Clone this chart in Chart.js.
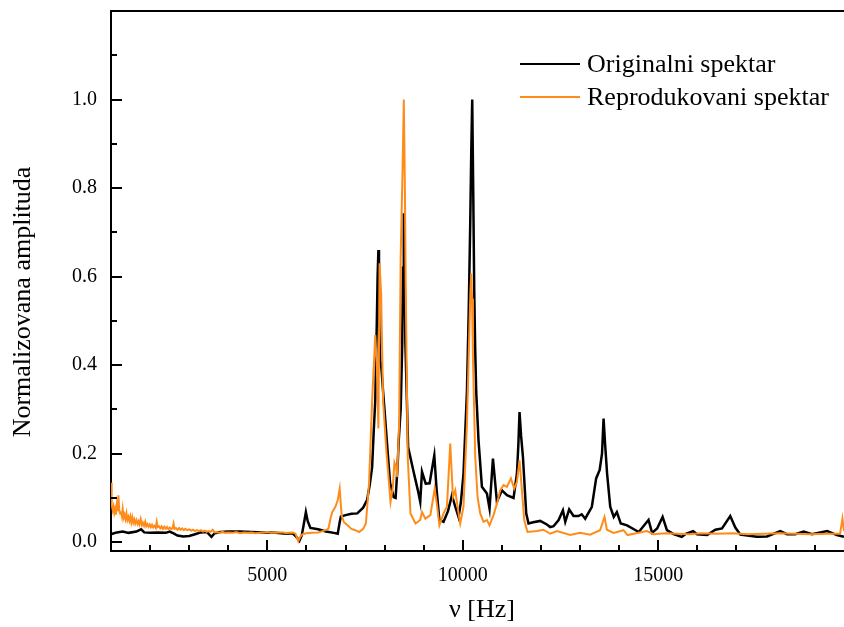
<!DOCTYPE html>
<html>
<head>
<meta charset="utf-8">
<title>Spektar</title>
<script src="https://cdn.jsdelivr.net/npm/chart.js@4.4.0/dist/chart.umd.min.js"></script>
<style>
    html, body { margin: 0; padding: 0; background: #fff; }
    #wrap { width: 844px; height: 627px; position: relative; }
</style>
</head>
<body>
<div id="wrap"><canvas id="spectrum"></canvas></div>
<script>
// Original spectrum (black)
const freqOriginal = [
    1000, 1150, 1300, 1450, 1650, 1770, 1850, 2000, 2200, 2400,
    2500, 2600, 2700, 2850, 3000, 3150, 3300, 3450, 3570, 3650,
    3800, 4000, 4300, 4600, 4900, 5200, 5500, 5650, 5760, 5820,
    5880, 5940, 5985, 6030, 6100, 6300, 6500, 6700, 6800, 6850,
    6880, 7000, 7150, 7300, 7450, 7550, 7620, 7680, 7720, 7760,
    7800, 7820, 7840, 7855, 7870, 7890, 7920, 7960, 8010, 8080,
    8140, 8230, 8280, 8330, 8360, 8410, 8450, 8470, 8490, 8510,
    8530, 8600, 8730, 8850, 8910, 8955, 9050, 9150, 9270, 9330,
    9400, 9506, 9620, 9721, 9806, 9890, 9950, 10017, 10105, 10150,
    10189, 10215, 10240, 10265, 10291, 10315, 10342, 10401, 10488, 10616,
    10683, 10770, 10872, 11000, 11128, 11297, 11384, 11420, 11450, 11490,
    11537, 11621, 11680, 11800, 11979, 12150, 12235, 12320, 12450, 12560,
    12620, 12720, 12830, 12960, 13040, 13130, 13300, 13410, 13500, 13560,
    13600, 13640, 13690, 13770, 13860, 13940, 14040, 14200, 14500, 14750,
    14840, 14970, 15110, 15220, 15390, 15600, 15690, 15890, 15990, 16250,
    16460, 16630, 16840, 16970, 17100, 17520, 17780, 18120, 18290, 18500,
    18720, 18930, 19320, 19570, 19750
];
const ampOriginal = [
    0.018, 0.022, 0.024, 0.021, 0.024, 0.029, 0.022, 0.021, 0.022, 0.021,
    0.024, 0.020, 0.015, 0.013, 0.014, 0.018, 0.022, 0.023, 0.012, 0.020,
    0.023, 0.024, 0.024, 0.023, 0.022, 0.021, 0.019, 0.020, 0.010, 0.003,
    0.015, 0.045, 0.068, 0.048, 0.032, 0.029, 0.024, 0.021, 0.019, 0.045,
    0.058, 0.061, 0.064, 0.065, 0.078, 0.095, 0.13, 0.17, 0.25, 0.32,
    0.50, 0.60, 0.66, 0.55, 0.45, 0.41, 0.39, 0.34, 0.283, 0.20,
    0.133, 0.102, 0.10, 0.17, 0.23, 0.30, 0.45, 0.62, 0.743, 0.62,
    0.45, 0.215, 0.163, 0.117, 0.091, 0.159, 0.132, 0.133, 0.196, 0.117,
    0.05, 0.046, 0.07, 0.106, 0.08, 0.057, 0.09, 0.155, 0.34, 0.52,
    0.72, 0.88, 1.0, 0.80, 0.57, 0.44, 0.34, 0.23, 0.125, 0.11,
    0.076, 0.189, 0.091, 0.117, 0.106, 0.10, 0.155, 0.22, 0.294, 0.24,
    0.193, 0.065, 0.042, 0.045, 0.048, 0.040, 0.034, 0.036, 0.05, 0.072,
    0.046, 0.074, 0.059, 0.059, 0.063, 0.053, 0.08, 0.144, 0.163, 0.20,
    0.279, 0.22, 0.155, 0.08, 0.057, 0.068, 0.042, 0.038, 0.023, 0.05,
    0.021, 0.031, 0.057, 0.027, 0.018, 0.012, 0.018, 0.025, 0.018, 0.016,
    0.028, 0.031, 0.059, 0.033, 0.017, 0.012, 0.013, 0.025, 0.018, 0.018,
    0.024, 0.018, 0.025, 0.016, 0.012
];

// Reproduced spectrum (orange)
const freqReproduced = [
    1000, 1010, 1025, 1045, 1065, 1085, 1105, 1125, 1150, 1170,
    1190, 1210, 1235, 1255, 1280, 1300, 1325, 1345, 1370, 1395,
    1420, 1445, 1470, 1495, 1520, 1545, 1570, 1595, 1620, 1650,
    1680, 1705, 1730, 1760, 1790, 1815, 1845, 1875, 1900, 1930,
    1960, 1990, 2020, 2050, 2080, 2110, 2145, 2170, 2195, 2225,
    2260, 2295, 2330, 2365, 2400, 2435, 2470, 2505, 2540, 2575,
    2600, 2625, 2660, 2700, 2740, 2780, 2820, 2860, 2900, 2950,
    3000, 3050, 3100, 3150, 3200, 3250, 3300, 3350, 3400, 3450,
    3500, 3540, 3600, 3650, 3700, 3780, 3850, 3920, 4000, 4100,
    4200, 4300, 4400, 4500, 4600, 4700, 4800, 4900, 5000, 5100,
    5200, 5300, 5400, 5500, 5550, 5650, 5720, 5790, 5840, 5900,
    6000, 6150, 6300, 6450, 6560, 6620, 6660, 6740, 6800, 6850,
    6900, 6960, 7050, 7150, 7250, 7350, 7450, 7520, 7600, 7680,
    7760, 7800, 7840, 7870, 7910, 7960, 8040, 8150, 8210, 8250,
    8290, 8320, 8370, 8410, 8460, 8490, 8515, 8540, 8590, 8660,
    8790, 8910, 8955, 9040, 9170, 9280, 9340, 9400, 9506, 9593,
    9678, 9747, 9806, 9864, 9933, 10017, 10105, 10171, 10195, 10215,
    10235, 10258, 10317, 10376, 10445, 10529, 10616, 10683, 10785, 10872,
    10956, 11041, 11128, 11230, 11314, 11383, 11450, 11511, 11570, 11654,
    11895, 12063, 12235, 12406, 12744, 12999, 13255, 13510, 13624, 13685,
    13854, 14110, 14212, 14708, 14877, 15200, 15500, 15800, 16100, 16500,
    16900, 17300, 17700, 18100, 18500, 18900, 19300, 19650, 19710, 19750
];
const ampReproduced = [
    0.134, 0.11, 0.085, 0.072, 0.08, 0.066, 0.074, 0.062, 0.085, 0.07,
    0.106, 0.072, 0.064, 0.07, 0.058, 0.075, 0.056, 0.062, 0.052, 0.065,
    0.05, 0.057, 0.048, 0.058, 0.045, 0.056, 0.044, 0.051, 0.042, 0.05,
    0.041, 0.047, 0.04, 0.052, 0.039, 0.044, 0.037, 0.046, 0.036, 0.041,
    0.035, 0.04, 0.034, 0.039, 0.033, 0.037, 0.032, 0.046, 0.034, 0.036,
    0.031, 0.036, 0.03, 0.035, 0.03, 0.034, 0.029, 0.033, 0.029, 0.032,
    0.042, 0.03, 0.032, 0.028, 0.032, 0.028, 0.031, 0.027, 0.03, 0.027,
    0.029, 0.026, 0.028, 0.025, 0.027, 0.025, 0.027, 0.024, 0.026, 0.023,
    0.025, 0.023, 0.028, 0.022, 0.023, 0.021, 0.024, 0.021, 0.022, 0.021,
    0.023, 0.020, 0.022, 0.021, 0.022, 0.020, 0.021, 0.022, 0.023, 0.021,
    0.021, 0.022, 0.022, 0.020, 0.021, 0.022, 0.019, 0.002, 0.012, 0.018,
    0.020, 0.021, 0.022, 0.026, 0.030, 0.055, 0.068, 0.08, 0.095, 0.121,
    0.06, 0.045, 0.038, 0.030, 0.027, 0.023, 0.030, 0.042, 0.132, 0.32,
    0.468, 0.396, 0.257, 0.63, 0.56, 0.32, 0.21, 0.091, 0.125, 0.18,
    0.17, 0.147, 0.268, 0.645, 0.85, 1.0, 0.82, 0.57, 0.193, 0.065,
    0.042, 0.05, 0.068, 0.053, 0.061, 0.121, 0.083, 0.038, 0.065, 0.08,
    0.223, 0.102, 0.117, 0.08, 0.042, 0.08, 0.268, 0.494, 0.57, 0.607,
    0.55, 0.419, 0.193, 0.102, 0.065, 0.046, 0.05, 0.038, 0.061, 0.087,
    0.117, 0.129, 0.125, 0.144, 0.121, 0.136, 0.185, 0.117, 0.05, 0.023,
    0.025, 0.028, 0.019, 0.025, 0.016, 0.021, 0.017, 0.027, 0.057, 0.028,
    0.021, 0.027, 0.016, 0.025, 0.018, 0.020, 0.019, 0.018, 0.020, 0.019,
    0.020, 0.018, 0.019, 0.020, 0.019, 0.018, 0.019, 0.019, 0.053, 0.025
];

const xTicks = [5000, 10000, 15000];
const yTicks = [0.0, 0.2, 0.4, 0.6, 0.8, 1.0];
const seriesLabels = ['Originalni spektar', 'Reprodukovani spektar'];
const xTitle = 'ν [Hz]';
const yTitle = 'Normalizovana amplituda';

const FONT = "'Liberation Serif', 'Times New Roman', serif";
const BLACK = '#000000';
const ORANGE = '#ff8c1a';

function toPoints(xs, ys) {
    return xs.map((x, i) => ({ x: x, y: ys[i] }));
}

// Inward tick marks, top frame line, axis titles and the legend
const framePlugin = {
    id: 'frame',
    afterDraw(chart) {
        const ctx = chart.ctx;
        const area = chart.chartArea;
        const xs = chart.scales.x;
        const ys = chart.scales.y;
        ctx.save();
        ctx.strokeStyle = BLACK;
        ctx.lineWidth = 2;

        // top border
        ctx.beginPath();
        ctx.moveTo(area.left, area.top);
        ctx.lineTo(area.right, area.top);
        ctx.stroke();

        // x ticks, every 1000 Hz, long ones at labels
        ctx.beginPath();
        for (let v = 2000; v <= xs.max; v += 1000) {
            const px = Math.round(xs.getPixelForValue(v));
            const len = xTicks.includes(v) ? 11 : 6;
            ctx.moveTo(px, area.bottom);
            ctx.lineTo(px, area.bottom - len);
        }
        // y ticks, every 0.1
        for (let k = 0; k <= 11; k++) {
            const v = k / 10;
            const py = Math.round(ys.getPixelForValue(v));
            const len = k % 2 === 0 ? 11 : 6;
            ctx.moveTo(area.left, py);
            ctx.lineTo(area.left + len, py);
        }
        ctx.stroke();

        // axis titles
        ctx.fillStyle = BLACK;
        ctx.font = '26px ' + FONT;
        ctx.textAlign = 'center';
        ctx.textBaseline = 'middle';
        ctx.fillText(xTitle, 482, 610);
        ctx.translate(23, 302);
        ctx.rotate(-Math.PI / 2);
        ctx.fillText(yTitle, 0, 0);
        ctx.setTransform(1, 0, 0, 1, 0, 0);

        // legend
        const rows = [
            { label: seriesLabels[0], color: BLACK, y: 64 },
            { label: seriesLabels[1], color: ORANGE, y: 97 }
        ];
        ctx.textAlign = 'left';
        rows.forEach(r => {
            ctx.strokeStyle = r.color;
            ctx.lineWidth = 2;
            ctx.beginPath();
            ctx.moveTo(520, r.y);
            ctx.lineTo(580, r.y);
            ctx.stroke();
            ctx.fillStyle = BLACK;
            ctx.fillText(r.label, 587, r.y + 1);
        });
        ctx.restore();
    }
};

const ctx = document.getElementById('spectrum').getContext('2d');
new Chart(ctx, {
    type: 'line',
    data: {
        datasets: [
            {
                label: seriesLabels[0],
                data: toPoints(freqOriginal, ampOriginal),
                borderColor: BLACK,
                borderWidth: 2.5,
                pointRadius: 0,
                tension: 0,
                order: 1
            },
            {
                label: seriesLabels[1],
                data: toPoints(freqReproduced, ampReproduced),
                borderColor: ORANGE,
                borderWidth: 2,
                pointRadius: 0,
                tension: 0,
                order: 0
            }
        ]
    },
    options: {
        responsive: true,
        maintainAspectRatio: false,
        animation: false,
        layout: { padding: { top: 11, right: 0, left: 0, bottom: 0 } },
        plugins: {
            legend: { display: false },
            tooltip: { enabled: false }
        },
        scales: {
            x: {
                type: 'linear',
                min: 1000,
                max: 19750,
                afterFit(scale) {
                    scale.height = 76;
                    scale.paddingLeft = 0;
                    scale.paddingRight = 0;
                },
                afterBuildTicks(scale) { scale.ticks = xTicks.map(v => ({ value: v })); },
                grid: { display: false, drawTicks: false },
                border: { display: true, color: BLACK, width: 2 },
                ticks: {
                    padding: 13,
                    color: BLACK,
                    maxRotation: 0,
                    font: { family: FONT, size: 20 },
                    callback: v => String(v)
                }
            },
            y: {
                min: -0.02,
                max: 1.2,
                afterFit(scale) {
                    scale.width = 111;
                    scale.paddingTop = 0;
                    scale.paddingBottom = 0;
                },
                afterBuildTicks(scale) { scale.ticks = yTicks.map(v => ({ value: v })); },
                grid: { display: false, drawTicks: false },
                border: { display: true, color: BLACK, width: 2 },
                ticks: {
                    padding: 14,
                    color: BLACK,
                    font: { family: FONT, size: 20 },
                    callback: v => v.toFixed(1)
                }
            }
        }
    },
    plugins: [framePlugin]
});
</script>
</body>
</html>
